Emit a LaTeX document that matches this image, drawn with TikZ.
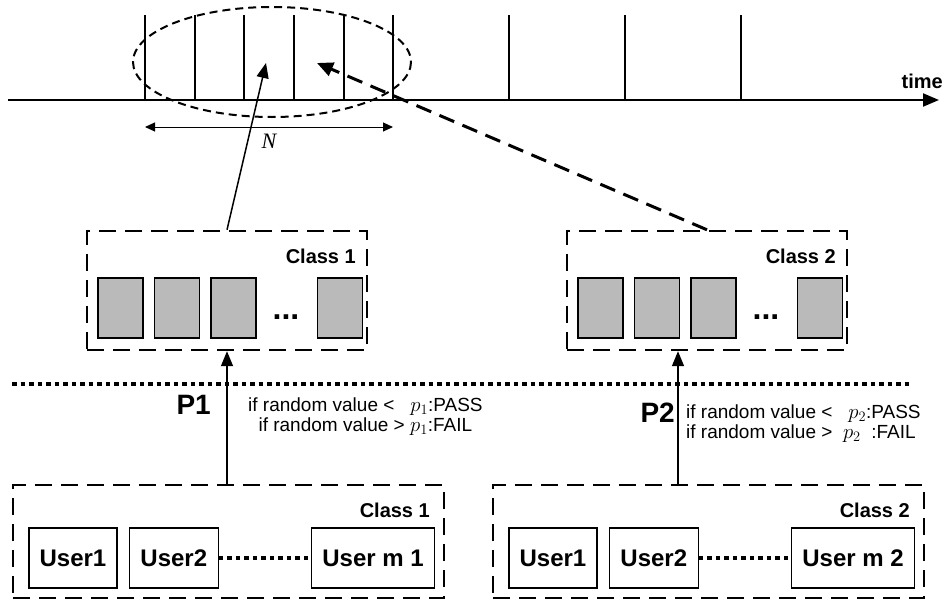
\documentclass[tikz,border=0pt]{standalone}
\usepackage{fontspec}
\setmainfont{Liberation Sans}
\newfontfamily\timesfont{Liberation Serif}
\usetikzlibrary{positioning,arrows.meta}
\tikzset{
  grpbox/.style={draw,line width=2.4pt,dash pattern=on 17pt off 9pt,inner sep=0pt},
  slot/.style={draw,line width=1.4pt,fill=black!27,inner sep=0pt,
    minimum width=45pt,minimum height=60pt},
  user/.style={draw,line width=1.3pt,inner sep=0pt,minimum height=60pt,
    font=\bfseries\fontsize{24}{28}\selectfont},
  lbl/.style={inner sep=0pt,font=\bfseries\fontsize{20}{24}\selectfont},
  plbl/.style={inner sep=0pt,font=\bfseries\fontsize{28}{30}\selectfont},
  rule/.style={inner sep=0pt,font=\fontsize{19}{20}\selectfont},
  gap/.style={inner sep=0pt,font=\bfseries\fontsize{32}{32}\selectfont},
  tick/.style={line width=1.5pt},
  link/.style={-{Triangle[length=15pt,width=12pt]},line width=1.5pt},
  farlink/.style={-{Triangle[length=16pt,width=14pt]},line width=3pt,
    dash pattern=on 16pt off 9pt},
  dotline/.style={line width=4.5pt,dash pattern=on 4.5pt off 4pt}
}
\newcommand{\pval}[1]{{\fontsize{22}{20}\selectfont$p_{#1}$}}

\begin{document}
\begin{tikzpicture}[x=1pt,y=-1pt]
  \useasboundingbox (0,0) rectangle (951,608);
  % time line with slots
  \draw[-{Triangle[length=16pt,width=13pt]},line width=2pt] (8,100) -- (939,100);
  \node[lbl,anchor=base east] (time) at (943,88) {time};
  \foreach \x in {145,195,244,294,344,393,509,625,741}
    \draw[tick] (\x,15) -- (\x,100);
  \draw[line width=2pt,dash pattern=on 8pt off 5pt] (272,62) ellipse [x radius=139,y radius=55];
  \coordinate (nl) at (145,127);
  \coordinate (nr) at (393,127);
  \draw[{Triangle[length=10pt,width=9pt]}-{Triangle[length=10pt,width=9pt]},line width=1pt] (nl) -- (nr);
  \node[inner sep=0pt,font=\timesfont\itshape\fontsize{22}{22}\selectfont] (N) at (269,141) {N};
  \coordinate (hit1) at (266,63);
  \coordinate (hit2) at (317,63);

  % queues
  \node[grpbox,minimum width=280pt,minimum height=119pt] (q1) at (227,290.5) {};
  \node[grpbox,minimum width=280pt,minimum height=119pt] (q2) at (707,290.5) {};
  \node[lbl,anchor=base east] (ql1) at (356,263) {Class 1};
  \node[lbl,anchor=base east] (ql2) at (836,263) {Class 2};
  \node[slot] (a1) at (120.5,308) {};
  \node[slot,right=10pt of a1] (a2) {};
  \node[slot,right=10pt of a2] (a3) {};
  \node[slot,right=60pt of a3] (a4) {};
  \node[gap,anchor=base] (ad) at (286,319) {...};
  \node[slot] (b1) at (600.5,308) {};
  \node[slot,right=10pt of b1] (b2) {};
  \node[slot,right=10pt of b2] (b3) {};
  \node[slot,right=60pt of b3] (b4) {};
  \node[gap,anchor=base] (bd) at (766,319) {...};
  \draw[link] (q1.north) -- (hit1);
  \draw[farlink] (q2.north) -- (hit2);

  \draw[dotline] (12,384) -- (910,384);

  % user groups
  \node[grpbox,minimum width=431pt,minimum height=113pt] (g1) at (228.5,541.5) {};
  \node[grpbox,minimum width=431pt,minimum height=113pt] (g2) at (708.5,541.5) {};
  \node[lbl,anchor=base east] (gl1) at (430,517) {Class 1};
  \node[lbl,anchor=base east] (gl2) at (910,517) {Class 2};
  \node[user,minimum width=88pt] (u11) at (73,558) {User1};
  \node[user,minimum width=89pt,right=11pt of u11] (u12) {User2};
  \node[user,minimum width=123pt,right=92pt of u12] (u1m) {User m 1};
  \node[user,minimum width=88pt] (u21) at (553,558) {User1};
  \node[user,minimum width=89pt,right=11pt of u21] (u22) {User2};
  \node[user,minimum width=123pt,right=92pt of u22] (u2m) {User m 2};
  \draw[dotline] (u12) -- (u1m);
  \draw[dotline] (u22) -- (u2m);

  \coordinate (in2) at ([xshift=-29pt]q2.south);
  \draw[link] (g1.north -| q1.south) -- (q1.south);
  \draw[link] (g2.north -| in2) -- (in2);
  \node[plbl,anchor=base east] (p1) at (211,414) {P1};
  \node[plbl,anchor=base east] (p2) at (675,422) {P2};
  \node[rule,align=center,anchor=west] (r1) at (248,417)
    {if random value <~~ \pval{1}:PASS\\if random value > \pval{1}:FAIL};
  \node[rule,align=left,anchor=west] (r2) at (686,424)
    {if random value <~~ \pval{2}:PASS\\if random value >~~\pval{2}~~:FAIL};
\end{tikzpicture}
\end{document}
